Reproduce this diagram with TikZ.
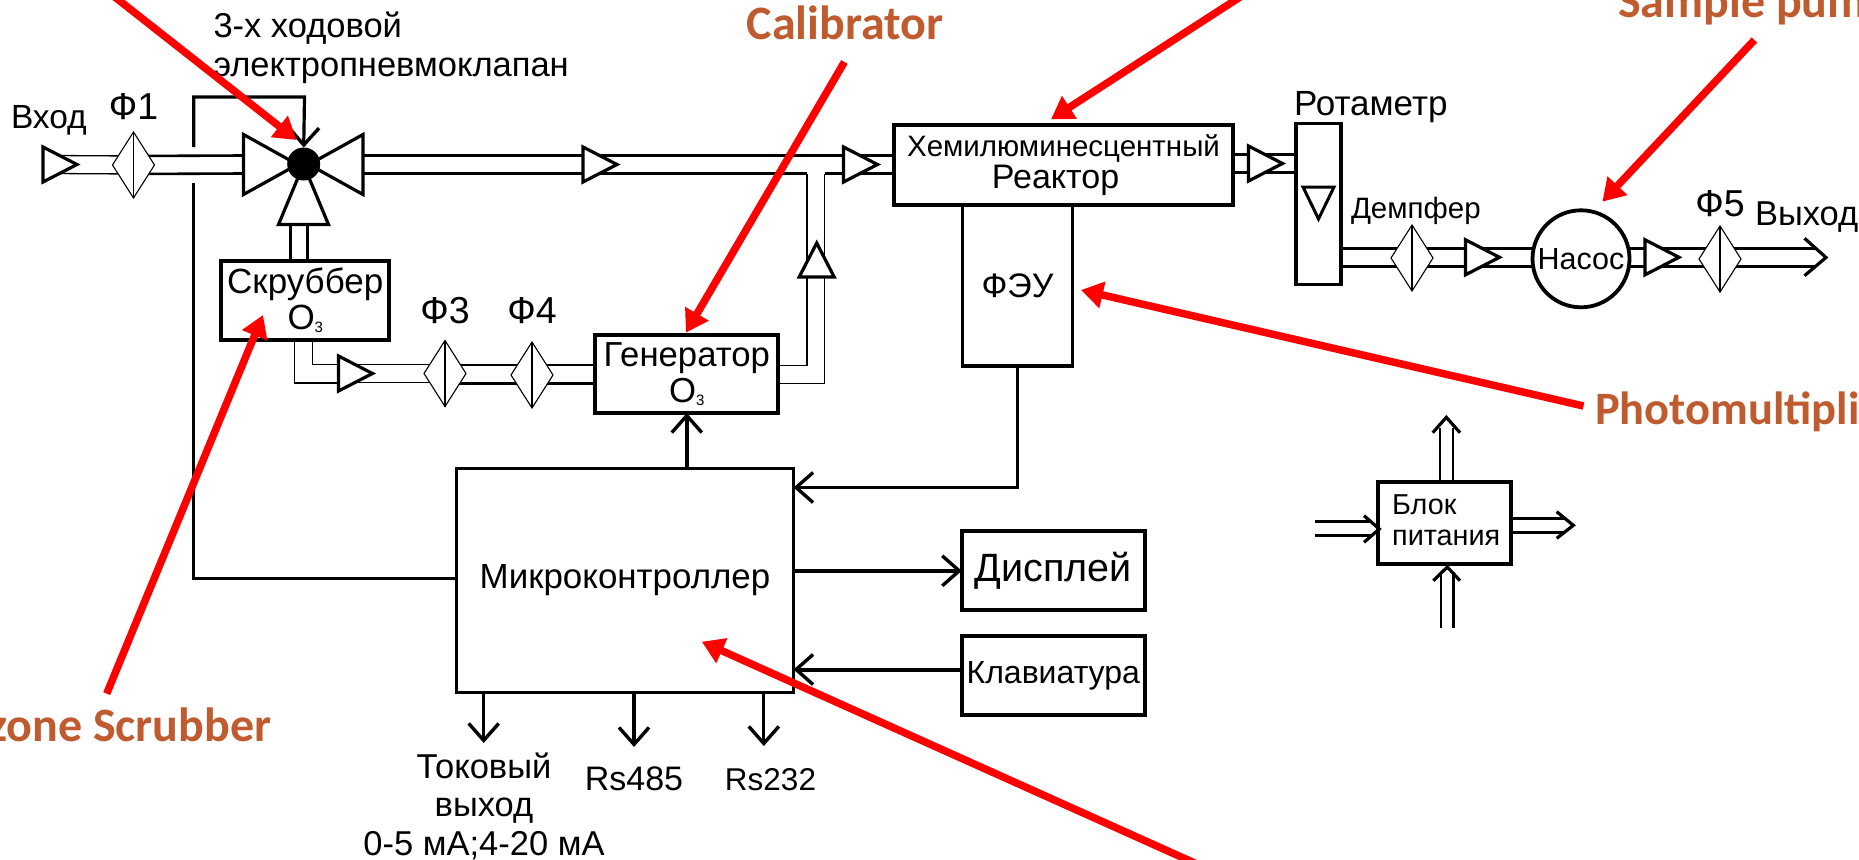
\documentclass[tikz,border=0pt]{standalone}
\usepackage{fontspec}
\setmainfont{Liberation Sans}
\newfontfamily\labelfont{Carlito}
\usepackage{xcolor}
\usepackage{tikz}
\usetikzlibrary{arrows.meta,positioning,shapes.geometric,backgrounds}
\definecolor{callout}{HTML}{BF5B2E}
\newcommand{\ozone}{O\raisebox{-3pt}{\fontsize{15}{15}\selectfont 3}}
% two parallel lines of a gas pipe
\newcommand{\pipepair}[3][pipe]{%
  \draw[#1] ([yshift=9pt]#2)--([yshift=9pt]#3);
  \draw[#1] ([yshift=-9pt]#2)--([yshift=-9pt]#3);}

\begin{document}
\begin{tikzpicture}[
  x=1pt,y=-1pt,
  every node/.style={inner sep=0pt,outer sep=0pt},
  box/.style={draw,fill=white,line width=3.8pt,align=center},
  lbl/.style={font=\fontsize{#1}{#1}\selectfont},
  lines/.style 2 args={font=\fontsize{#1}{#2}\selectfont},
  callout/.style={font=\labelfont\bfseries\fontsize{48}{48}\selectfont,text=callout},
  flow/.style={draw,fill=white,line width=3.2pt,isosceles triangle,isosceles triangle stretches,minimum width=35pt,minimum height=34pt},
  wing/.style={draw,fill=white,line width=3.2pt,isosceles triangle,isosceles triangle stretches},
  filter/.style={draw,fill=white,line width=1.1pt,diamond,minimum width=42pt,minimum height=66pt},
  pipe/.style={line width=2.6pt},
  thinpipe/.style={line width=1.3pt},
  wire/.style={line width=3.2pt},
  boldwire/.style={line width=4pt},
  barb/.style={-{Straight Barb[length=17pt,width=30pt,line width=3.4pt]}},
  head/.style={line width=3.2pt},
  pointer/.style={red,line width=7.5pt,-{Triangle[length=22pt,width=26pt]}}
]
\useasboundingbox (0,0) rectangle (1859,859);
\clip (0,0) rectangle (1859,859);

% boxes
\node[box,minimum width=168pt,minimum height=79pt,lines={35}{36.5}] (scrub) at (305.3,300.4) {Скруббер\\\ozone};
\node[box,minimum width=183pt,minimum height=78pt,lines={34.7}{36.5}] (gen) at (686.8,374) {Генератор\\\ozone};
\node[box,minimum width=339pt,minimum height=80pt,lines={29.5}{32.5}] (reactor) at (1063.5,165) {Хемилюминесцентный\\\hspace*{-16pt}\fontsize{34}{32}\selectfont Реактор};
\node[box,below=0pt of reactor,xshift=-46pt,minimum width=110pt,minimum height=161pt,lbl=34] (feu) {ФЭУ};
\node[box,minimum width=45pt,minimum height=161pt] (rotameter) at (1318.4,204) {};
\node[box,minimum width=337pt,minimum height=224pt,lbl=34.9] (micro) at (625,580.5) {Микроконтроллер};
\node[box,minimum width=183pt,minimum height=79pt,lbl=39.5] (display) at (1053.3,570.8) {Дисплей};
\node[box,minimum width=183pt,minimum height=79pt,lbl=32] (keyb) at (1053.3,675.5) {Клавиатура};
\node[box,minimum width=133pt,minimum height=82pt,align=left,lines={28.8}{31.5}] (power) at (1444.7,523.3) {\hspace*{3pt}Блок\\\hspace*{3pt}питания\rule[-6pt]{0pt}{0pt}};
\node[draw,fill=white,circle,line width=3.8pt,minimum size=97pt,lbl=30.5] (pump) at (1581,258.8) {Насос};

% filters
\node[filter] (fltA) at (133.5,165) {};
\node[filter] (fltB) at (445,373.5) {};
\node[filter] (fltC) at (532,375) {};
\node[filter] (fltD) at (1412,258) {};
\node[filter] (fltE) at (1720,259) {};
\foreach \f in {fltA,fltB,fltC,fltD,fltE}
  \draw[line width=1.1pt] (\f.north)--(\f.south);

% valve
\node[wing,anchor=lower side,minimum width=60pt,minimum height=54pt] (wingL) at (243.5,164.5) {};
\node[wing,shape border rotate=180,anchor=lower side,minimum width=60pt,minimum height=54pt] (wingR) at (363,164.5) {};
\node[wing,shape border rotate=90,anchor=lower side,minimum width=50pt,minimum height=60pt] (wingB) at (303.5,224.5) {};
\node[fill=black,circle,minimum size=33pt] (valve) at (303.7,164) {};

% flow direction marks
\node[flow,anchor=lower side] (dirA) at (43,164.5) {};
\node[flow,anchor=lower side] (dirB) at (338.5,373.5) {};
\node[flow,anchor=lower side] (dirC) at (583,164.5) {};
\node[flow,anchor=lower side] (dirD) at (843.5,164.5) {};
\node[flow,shape border rotate=90,anchor=lower side] (dirE) at (816.7,277) {};
\node[flow,anchor=lower side] (dirF) at (1248.5,163.5) {};
\node[flow,shape border rotate=-90,anchor=lower side,line width=3pt,minimum width=31pt,minimum height=32pt] (dirG) at (1318.5,187) {};
\node[flow,anchor=lower side] (dirH) at (1465.5,257.3) {};
\node[flow,anchor=lower side] (dirI) at (1645,257.3) {};

% labels
\node[lbl=33.5,anchor=base west] (inlet) at (11,128) {Вход};
\node[lbl=37.5,above=12pt of fltA] (lblA) {Ф1};
\node[lbl=37.5,above=17pt of fltB] (lblB) {Ф3};
\node[lbl=37.5,above=18.7pt of fltC] (lblC) {Ф4};
\node[lbl=37.5,above=8.7pt of fltE] (lblE) {Ф5};
\node[lines={34.5}{38.3},anchor=base west,align=left] (valvetxt) at (213.5,76) {3-х ходовой\\электропневмоклапан};
\node[lbl=35,anchor=base west] (rotatxt) at (1294,115) {Ротаметр};
\node[lbl=29.5,anchor=base west] (damper) at (1351,218.3) {Демпфер};
\node[lbl=34.5,anchor=base west] (outlet) at (1755,225) {Выход};
\node[lines={34.5}{38.5},align=center] (currout) at (484,806) {Токовый\\выход\\0-5 мА;4-20 мА};
\node[lbl=34,anchor=base] (rsA) at (634,790) {Rs485};
\node[lbl=31.5,anchor=base] (rsB) at (770.5,790) {Rs232};

% callouts
\node[callout,anchor=base] (calib) at (845,40) {Calibrator};
\node[callout,anchor=base west] (sample) at (1618,18) {Sample pump};
\node[callout,anchor=base west,font=\labelfont\bfseries\fontsize{46.5}{46.5}\selectfont] (photo) at (1595,424) {Photomultiplier};
\node[callout,anchor=base east] (ozone) at (271.5,741) {Ozone Scrubber};

\begin{scope}[on background layer]
  \pipepair[thinpipe]{dirA.center}{fltA.center}
  \pipepair{fltA.center}{wingL.lower side}
  \draw[pipe] ([yshift=9pt]wingR.lower side)--([yshift=9pt]wingR.lower side -| reactor.west);
  \draw[pipe] ([yshift=-9pt]wingR.lower side)--(806.9,173.5);
  \draw[pipe] (824.7,173.5)--([yshift=-9pt]wingR.lower side -| reactor.west);
  \draw[pipe] (290.6,226)--(290.6,262);
  \draw[pipe] (307.6,226)--(307.6,262);
  \draw[thinpipe] (scrub.south -| 294.6,0) -- (294.6,383) -- (dirB.center |- 0,383);
  \draw[thinpipe] (scrub.south -| 312.4,0) -- (312.4,364.5) -- (dirB.center |- 0,364.5);
  \pipepair[thinpipe]{dirB.center}{fltB.center}
  \draw[pipe] (fltB.center |- 0,365)--(gen.west |- 0,365);
  \draw[pipe] (fltB.center |- 0,383.5)--(gen.west |- 0,383.5);
  \draw[thinpipe] (gen.east |- 0,365.5)-|(806.9,173.5);
  \draw[thinpipe] (gen.east |- 0,383.3)-|(824.7,173.5);
  \pipepair{dirF.center -| reactor.east}{dirF.center -| rotameter.west}
  \pipepair{dirH.center -| rotameter.east}{dirH.center -| pump.west}
  \pipepair{dirH.center -| pump.east}{dirH.center -| fltE.center}
  \draw[pipe] (fltE.center |- 0,248.3)--(1816,248.3);
  \draw[pipe] (fltE.center |- 0,266.5)--(1816,266.5);
  \draw[pipe] (power.north -| 1440,0)--(1440,428);
  \draw[pipe] (power.north -| 1453,0)--(1453,428);
  \draw[pipe] (1441,628.3)--(1441,572);
  \draw[pipe] (1453.7,628.3)--(1453.7,572);
  \draw[pipe] (1508,518.3)--(1565,518.3);
  \draw[pipe] (1508,532.3)--(1565,532.3);
  \draw[pipe] (1315,521.7)--(1372,521.7);
  \draw[pipe] (1315,535.7)--(1372,535.7);
\end{scope}

% control wires
\coordinate (ctrlA) at (193.7,147);
\coordinate (ctrlB) at (304.5,97);
\coordinate (ctrlC) at (193.7,183);
\draw[wire,barb] (ctrlA)|-(ctrlB)--(valve.north);
\draw[wire] ([yshift=2pt]micro.west)-|(ctrlC);
\draw[boldwire,barb] (micro.north -| gen.south)--(gen.south);
\draw[wire,barb] (feu.south)|-([yshift=93pt]micro.east);
\draw[boldwire,barb] (micro.east |- display.west)--(display.west);
\draw[boldwire,barb] ([yshift=6pt]keyb.west)--([yshift=6pt]keyb.west -| micro.east);
\coordinate (outA) at (483.7,743);
\coordinate (outB) at (634,747);
\coordinate (outC) at (763.8,746);
\draw[wire,barb] (micro.south -| outA)--(outA);
\draw[wire,barb] (micro.south -| outB)--(outB);
\draw[wire,barb] (micro.south -| outC)--(outC);

% open arrow heads of the double lines
\coordinate (outTip) at (1826,257.5);
\draw[head] (1804.5,238.3)--(outTip)--(1804.5,275.7);
\coordinate (upTip) at (1446.3,417.3);
\draw[head] (1432.7,432.7)--(upTip)--(1460,432.7);
\coordinate (botTip) at (1447.3,567);
\draw[head] (1433.3,580.7)--(botTip)--(1460,580.7);
\coordinate (rightTip) at (1573.3,525.3);
\draw[head] (1556.7,511.7)--(rightTip)--(1556.7,538.3);
\coordinate (leftTip) at (1379.3,529);
\draw[head] (1364,515.7)--(leftTip)--(1364,542.3);

% red pointers
\coordinate (ptrValve) at (100.8,-14);
\coordinate (tipValve) at (296.6,140);
\draw[pointer] (ptrValve)--(tipValve);
\coordinate (ptrCalib) at (844.4,62);
\coordinate (tipCalib) at (685.9,332.7);
\draw[pointer] (ptrCalib)--(tipCalib);
\coordinate (ptrReact) at (1254,-12);
\coordinate (tipReact) at (1051,119.3);
\draw[pointer] (ptrReact)--(tipReact);
\coordinate (ptrPump) at (1754.4,40);
\coordinate (tipPump) at (1602.4,201.7);
\draw[pointer] (ptrPump)--(tipPump);
\coordinate (ptrFeu) at (1583.5,406);
\coordinate (tipFeu) at (1081,290);
\draw[pointer] (ptrFeu)--(tipFeu);
\coordinate (ptrScrub) at (106.7,693.6);
\coordinate (tipScrub) at (263,315);
\draw[pointer] (ptrScrub)--(tipScrub);
\coordinate (ptrMicro) at (1208,869);
\coordinate (tipMicro) at (701.8,641.7);
\draw[pointer] (ptrMicro)--(tipMicro);
\end{tikzpicture}
\end{document}
